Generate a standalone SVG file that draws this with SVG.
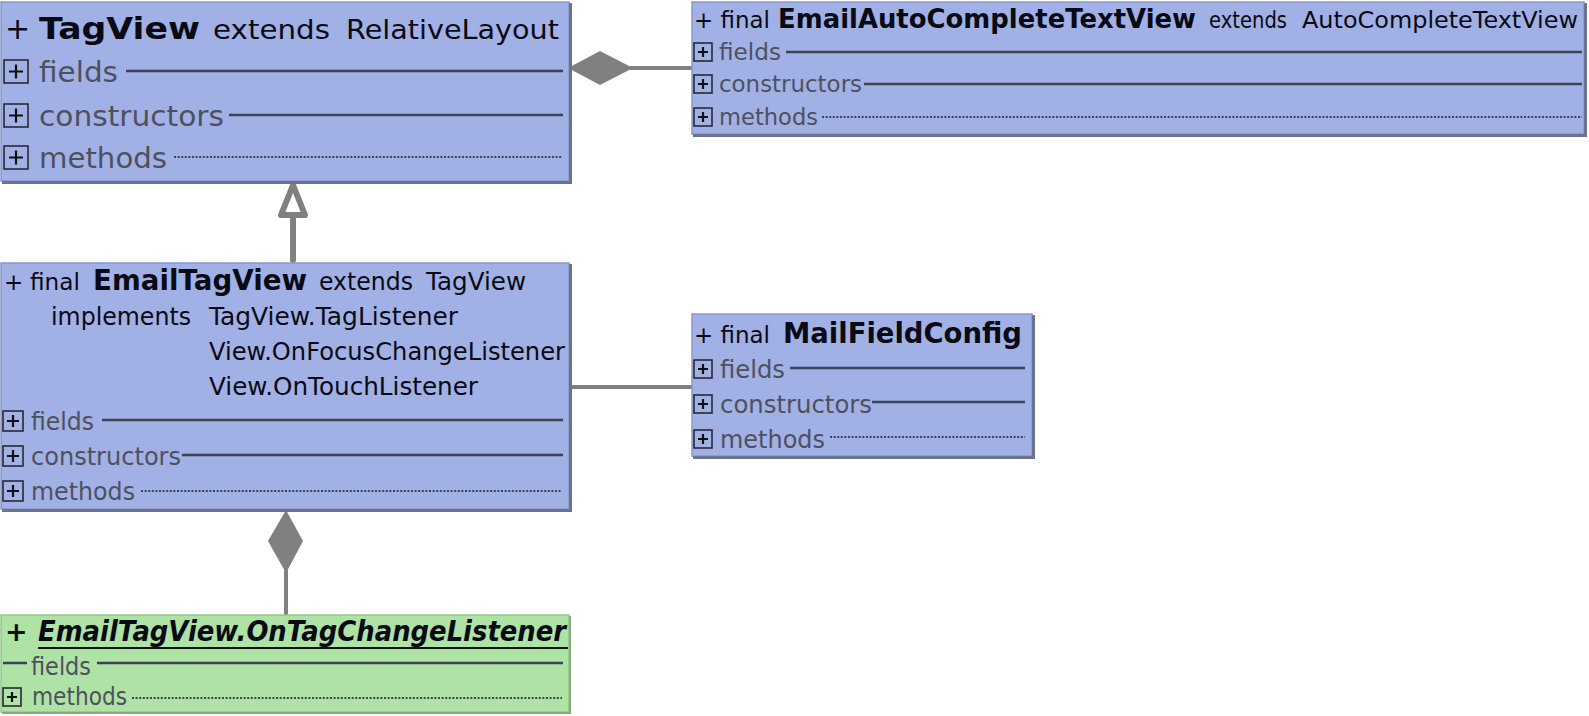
<svg xmlns="http://www.w3.org/2000/svg" width="1589" height="716" viewBox="0 0 1589 716">
<style>
.box{fill:#a1b1e5;stroke:#8b97c8;stroke-width:1.5}
.gbox{fill:#afe2a5;stroke:#93c88a;stroke-width:1.5}
.shadow{fill:none;stroke:#6b7392;stroke-width:3}
.gshadow{fill:none;stroke:#86a980;stroke-width:2}
text{font-family:"DejaVu Sans","Liberation Sans",sans-serif;fill:#0a0a14}
.b{font-weight:bold}
.row{fill:#4e5060}
.sep{stroke:#3c4258;stroke-width:2.5;fill:none}
.dot{stroke:#3c4258;stroke-width:2.2;stroke-dasharray:2 1.6;fill:none}
.ico{fill:none;stroke:#2a2a33;stroke-width:1.6}
.plus{stroke:#111;stroke-width:2.2;fill:none}
.conn{stroke:#808080;fill:none}
</style>
<defs>
<g id="icoL"><rect class="ico" x="0" y="0" width="24" height="23"/><path class="plus" d="M5 11.5 H19 M12 4.5 V18.5"/></g>
<g id="icoS"><rect class="ico" x="0" y="0" width="18" height="18"/><path class="plus" d="M4 9 H14 M9 4 V14"/></g>
<g id="icoM"><rect class="ico" x="0" y="0" width="20" height="20"/><path class="plus" d="M4 10 H16 M10 4 V16"/></g>
</defs>

<g id="connectors">
<line class="conn" x1="630" y1="68" x2="692" y2="68" stroke-width="4"/>
<polygon points="568,68 600,51 633,68 600,85" fill="#808080"/>
<line class="conn" x1="293" y1="216" x2="293" y2="260" stroke-width="6" stroke-linecap="round"/>
<polygon points="293,185 281,215 305,215" fill="#ffffff" stroke="#808080" stroke-width="6" stroke-linejoin="round"/>
<line class="conn" x1="570" y1="387" x2="692" y2="387" stroke-width="4"/>
<line class="conn" x1="286" y1="570" x2="286" y2="615" stroke-width="4"/>
<polygon points="286,510 303,541 286,573 268,541" fill="#808080"/>
</g>

<g id="TagView">
<rect class="box" x="1" y="2" width="568" height="179"/>
<path class="shadow" d="M2 182.5 H570.5 V3"/>
<text x="5" y="39" font-size="30">+</text>
<text class="b" x="39" y="39" font-size="31" textLength="161" lengthAdjust="spacingAndGlyphs">TagView</text>
<text x="213" y="39" font-size="27" textLength="117" lengthAdjust="spacingAndGlyphs">extends</text>
<text x="346" y="39" font-size="27" textLength="213" lengthAdjust="spacingAndGlyphs">RelativeLayout</text>
<use href="#icoL" x="4" y="60"/>
<text class="row" x="39" y="82" font-size="28" textLength="79" lengthAdjust="spacingAndGlyphs">fields</text>
<line class="sep" x1="126" y1="71" x2="563" y2="71"/>
<use href="#icoL" x="4" y="104"/>
<text class="row" x="39" y="126" font-size="28" textLength="185" lengthAdjust="spacingAndGlyphs">constructors</text>
<line class="sep" x1="229" y1="115" x2="563" y2="115"/>
<use href="#icoL" x="4" y="146"/>
<text class="row" x="39" y="168" font-size="28" textLength="128" lengthAdjust="spacingAndGlyphs">methods</text>
<line class="dot" x1="174" y1="157" x2="562" y2="157"/>
</g>

<g id="EmailAutoCompleteTextView">
<rect class="box" x="692" y="2" width="892" height="132"/>
<path class="shadow" d="M693 135.5 H1585.5 V3"/>
<text x="694" y="28" font-size="23" textLength="76" lengthAdjust="spacingAndGlyphs">+ final</text>
<text class="b" x="778" y="28" font-size="26" textLength="418" lengthAdjust="spacingAndGlyphs">EmailAutoCompleteTextView</text>
<text x="1209" y="28" font-size="23" textLength="78" lengthAdjust="spacingAndGlyphs">extends</text>
<text x="1302" y="28" font-size="23" textLength="276" lengthAdjust="spacingAndGlyphs">AutoCompleteTextView</text>
<use href="#icoS" x="694" y="43"/>
<text class="row" x="719" y="60" font-size="23" textLength="62" lengthAdjust="spacingAndGlyphs">fields</text>
<line class="sep" x1="786" y1="52" x2="1582" y2="52"/>
<use href="#icoS" x="694" y="75"/>
<text class="row" x="719" y="92" font-size="23" textLength="143" lengthAdjust="spacingAndGlyphs">constructors</text>
<line class="sep" x1="864" y1="84" x2="1582" y2="84"/>
<use href="#icoS" x="694" y="108"/>
<text class="row" x="719" y="125" font-size="23" textLength="99" lengthAdjust="spacingAndGlyphs">methods</text>
<line class="dot" x1="822" y1="117" x2="1582" y2="117"/>
</g>

<g id="EmailTagView">
<rect class="box" x="1" y="263" width="568" height="246"/>
<path class="shadow" d="M2 510.5 H570.5 V264"/>
<text x="4" y="290" font-size="23">+</text>
<text x="30" y="290" font-size="23" textLength="50" lengthAdjust="spacingAndGlyphs">final</text>
<text class="b" x="93" y="290" font-size="28" textLength="214" lengthAdjust="spacingAndGlyphs">EmailTagView</text>
<text x="319" y="290" font-size="24" textLength="94" lengthAdjust="spacingAndGlyphs">extends</text>
<text x="426" y="290" font-size="24" textLength="100" lengthAdjust="spacingAndGlyphs">TagView</text>
<text x="51" y="325" font-size="24" textLength="140" lengthAdjust="spacingAndGlyphs">implements</text>
<text x="209" y="325" font-size="24" textLength="249" lengthAdjust="spacingAndGlyphs">TagView.TagListener</text>
<text x="209" y="360" font-size="24" textLength="356" lengthAdjust="spacingAndGlyphs">View.OnFocusChangeListener</text>
<text x="209" y="395" font-size="24" textLength="269" lengthAdjust="spacingAndGlyphs">View.OnTouchListener</text>
<use href="#icoM" x="3" y="411"/>
<text class="row" x="31" y="430" font-size="24" textLength="63" lengthAdjust="spacingAndGlyphs">fields</text>
<line class="sep" x1="102" y1="420" x2="563" y2="420"/>
<use href="#icoM" x="3" y="446"/>
<text class="row" x="31" y="465" font-size="24" textLength="150" lengthAdjust="spacingAndGlyphs">constructors</text>
<line class="sep" x1="182" y1="455" x2="563" y2="455"/>
<use href="#icoM" x="3" y="481"/>
<text class="row" x="31" y="500" font-size="24" textLength="104" lengthAdjust="spacingAndGlyphs">methods</text>
<line class="dot" x1="141" y1="491" x2="562" y2="491"/>
</g>

<g id="MailFieldConfig">
<rect class="box" x="692" y="314" width="340" height="142"/>
<path class="shadow" d="M693 457.5 H1033.5 V315"/>
<text x="694" y="343" font-size="23" textLength="76" lengthAdjust="spacingAndGlyphs">+ final</text>
<text class="b" x="783" y="343" font-size="28" textLength="239" lengthAdjust="spacingAndGlyphs">MailFieldConfig</text>
<use href="#icoS" x="694" y="360"/>
<text class="row" x="720" y="378" font-size="24" textLength="65" lengthAdjust="spacingAndGlyphs">fields</text>
<line class="sep" x1="790" y1="368" x2="1025" y2="368"/>
<use href="#icoS" x="694" y="395"/>
<text class="row" x="720" y="413" font-size="24" textLength="152" lengthAdjust="spacingAndGlyphs">constructors</text>
<line class="sep" x1="872" y1="402" x2="1025" y2="402"/>
<use href="#icoS" x="694" y="430"/>
<text class="row" x="720" y="448" font-size="24" textLength="105" lengthAdjust="spacingAndGlyphs">methods</text>
<line class="dot" x1="830" y1="437" x2="1025" y2="437"/>
</g>

<g id="OnTagChangeListener">
<rect class="gbox" x="1" y="615" width="568" height="97"/>
<path class="gshadow" d="M2 713 H570 V616"/>
<text class="b" x="5" y="641" font-size="27" font-style="italic">+</text>
<text class="b" x="38" y="641" font-size="28" font-style="italic" textLength="528" lengthAdjust="spacingAndGlyphs">EmailTagView.OnTagChangeListener</text>
<line x1="38" y1="648" x2="568" y2="648" stroke="#111" stroke-width="2"/>
<line class="sep" x1="3" y1="663" x2="27" y2="663" stroke-width="2"/>
<text class="row" x="31" y="675" font-size="24" textLength="60" lengthAdjust="spacingAndGlyphs">fields</text>
<line class="sep" x1="97" y1="663" x2="563" y2="663"/>
<use href="#icoS" x="3" y="688"/>
<text class="row" x="32" y="705" font-size="24" textLength="95" lengthAdjust="spacingAndGlyphs">methods</text>
<line class="dot" x1="132" y1="698" x2="562" y2="698"/>
</g>
</svg>
